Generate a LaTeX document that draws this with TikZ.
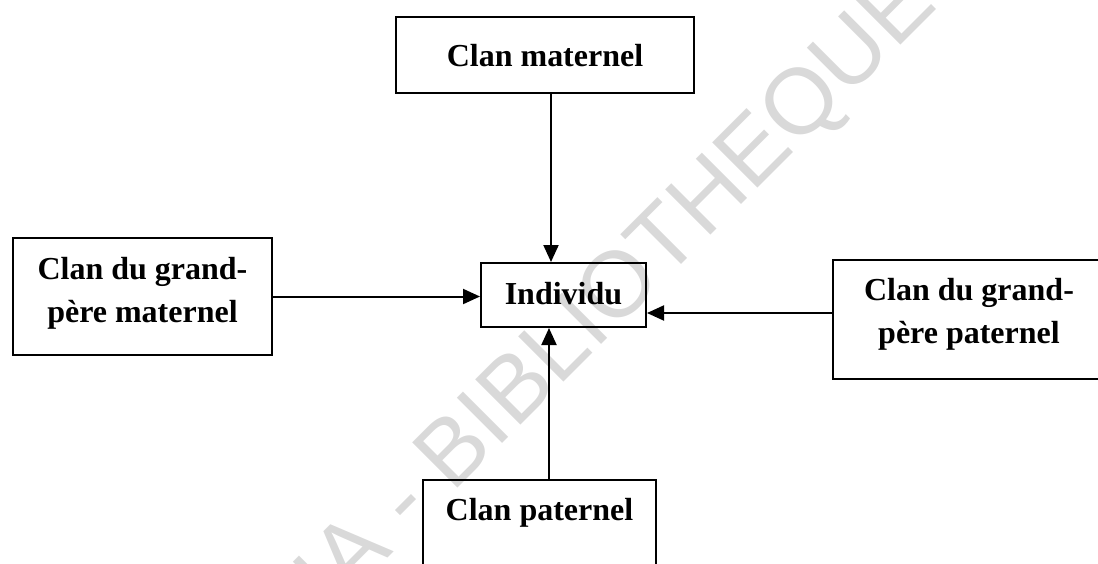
\documentclass[tikz,border=0pt]{standalone}
\usepackage{fontspec}
\setmainfont{Liberation Serif}
\newfontfamily\wmfont{Liberation Sans}
\usetikzlibrary{arrows.meta}
\definecolor{wmgray}{RGB}{217,217,217}

\begin{document}
\begin{tikzpicture}[x=0.5pt, y=-0.5pt,
  box/.style={draw, line width=1pt, inner sep=0pt, anchor=north west, align=center,
    font=\bfseries\fontsize{16}{21.5}\selectfont},
  arr/.style={line width=1pt, -{Triangle[length=8.5pt,width=7.5pt]}}]
\clip (0,0) rectangle (1098,563);

\node[rotate=45, anchor=base, text=wmgray, font=\wmfont\fontsize{46.5}{46.5}\selectfont] (wm) at (495,451) {CODESRIA - BIBLIOTHEQUE};

\node[box, minimum width=149pt, text height=24.5pt, text depth=13.5pt] (mat) at (395,16) {Clan maternel};
\node[box, minimum width=82.5pt, text height=20.5pt, text depth=11.5pt] (ind) at (480,262) {Individu};
\node[box, minimum width=129.5pt, text height=42pt, text depth=16.5pt] (gpm) at (12,237) {Clan du grand-\\père maternel};
\node[box, minimum width=136pt, text height=41.5pt, text depth=18pt] (gpp) at (832,259) {Clan du grand-\\père paternel};
\node[box, minimum width=116.5pt, text height=20pt, text depth=40.5pt] (pat) at (422,479) {Clan paternel};

\draw[arr] ([xshift=3pt]mat.south) -- ([xshift=3pt]mat.south |- ind.north);
\draw[arr] (gpm.east) -- (gpm.east -| ind.west);
\draw[arr] ([yshift=3.25pt]gpp.west) -- ([yshift=3.25pt]gpp.west -| ind.east);
\draw[arr] ([xshift=4.75pt]pat.north) -- ([xshift=4.75pt]pat.north |- ind.south);
\end{tikzpicture}
\end{document}
